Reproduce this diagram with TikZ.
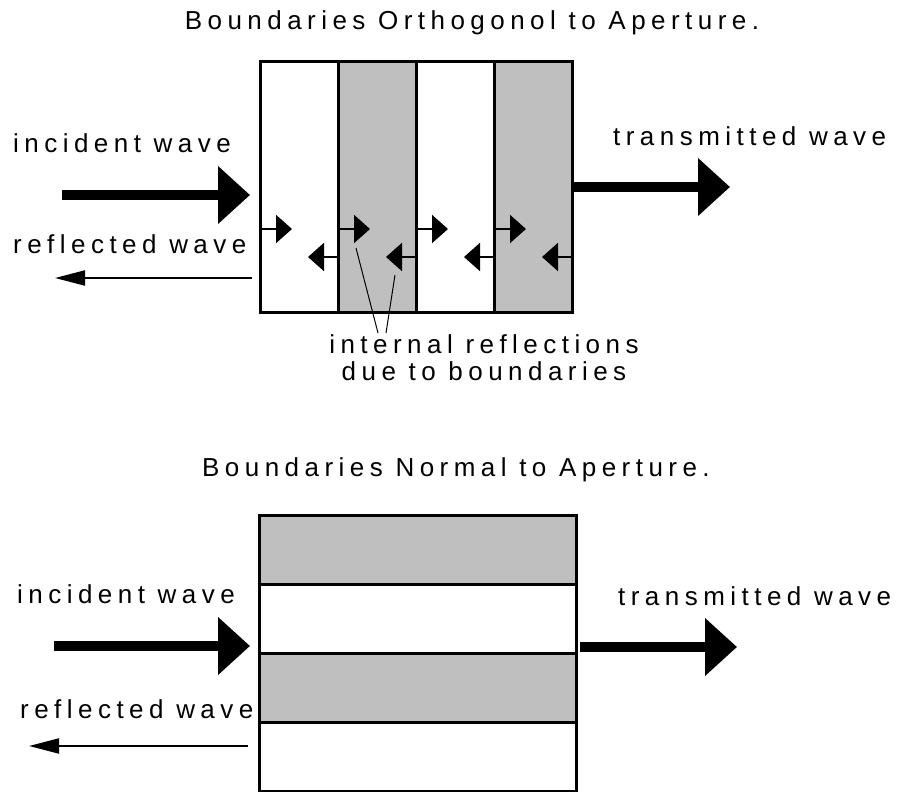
\documentclass[tikz,border=0pt]{standalone}
\usepackage{fontspec}
\setmainfont{Liberation Sans}[LetterSpace=21]
\usetikzlibrary{arrows.meta}

\begin{document}
\begin{tikzpicture}[x=1pt,y=-1pt,
	lbl/.style={font=\fontsize{26}{27}\selectfont, inner sep=0pt},
	strip/.style={draw, line width=3pt, inner sep=0pt, outer sep=0pt, anchor=north west},
	bigarrow/.style={line width=10pt, -{Triangle[length=32pt,width=56pt]}},
	thinarrow/.style={line width=2pt, -{Triangle[length=30pt,width=15pt]}},
	innerarrow/.style={line width=2pt, -{Triangle[length=16pt,width=28pt]}}]
\useasboundingbox (0,0) rectangle (906,792);

% Oben: Grenzen orthogonal
\node[lbl, anchor=base] (titleA) at (472,30) {Boundaries Orthogonol to Aperture.};
\begin{scope}[every node/.style={strip, minimum width=78pt, minimum height=250pt}]
	\node (s1) at (260,62) {};
	\node[fill=gray!50] (s2) at (338,62) {};
	\node (s3) at (416,62) {};
	\node[fill=gray!50] (s4) at (494,62) {};
\end{scope}

% Wellen oben
\node[lbl, anchor=base west] (incA) at (13,152) {incident wave};
\node[lbl, anchor=base west] (refA) at (13,253) {reflected wave};
\node[lbl, anchor=base west] (traA) at (613,146) {transmitted wave};
\coordinate (incAs) at (62,195);
\coordinate (incAe) at (250,195);
\coordinate (refAs) at (252,278);
\coordinate (refAe) at (55,278);
\coordinate (traAs) at (573,187);
\coordinate (traAe) at (730,187);
\draw[bigarrow] (incAs) -- (incAe);
\draw[thinarrow] (refAs) -- (refAe);
\draw[bigarrow] (traAs) -- (traAe);

% interne Reflexionen
\foreach \s in {s1,s2,s3,s4} {
	\draw[innerarrow] ([yshift=-42pt]\s.west) -- ++(32,0);
	\draw[innerarrow] ([yshift=-70pt]\s.east) -- ++(-30,0);
}
\node[lbl, anchor=north, align=center] (note) at (484,334) {internal reflections\\due to boundaries};
\coordinate (ptA) at (356,248);
\coordinate (ptB) at (395,275);
\coordinate (ptC) at (378,333);
\coordinate (ptD) at (386,333);
\draw[line width=1pt] (ptA) -- (ptC);
\draw[line width=1pt] (ptB) -- (ptD);

% Unten: Grenzen normal
\node[lbl, anchor=base] (titleB) at (456,476) {Boundaries Normal to Aperture.};
\begin{scope}[every node/.style={strip, minimum width=317pt, minimum height=69pt}]
	\node[fill=gray!50] (t1) at (259,515) {};
	\node (t2) at (259,584) {};
	\node[fill=gray!50] (t3) at (259,653) {};
	\node (t4) at (259,722) {};
\end{scope}

% Wellen unten
\node[lbl, anchor=base west] (incB) at (17,603) {incident wave};
\node[lbl, anchor=base west] (refB) at (20,718) {reflected wave};
\node[lbl, anchor=base west] (traB) at (618,605) {transmitted wave};
\coordinate (incBs) at (54,646);
\coordinate (incBe) at (250,646);
\coordinate (refBs) at (248,746);
\coordinate (refBe) at (29,746);
\coordinate (traBs) at (580,647);
\coordinate (traBe) at (737,647);
\draw[bigarrow] (incBs) -- (incBe);
\draw[thinarrow] (refBs) -- (refBe);
\draw[bigarrow] (traBs) -- (traBe);
\end{tikzpicture}
\end{document}
